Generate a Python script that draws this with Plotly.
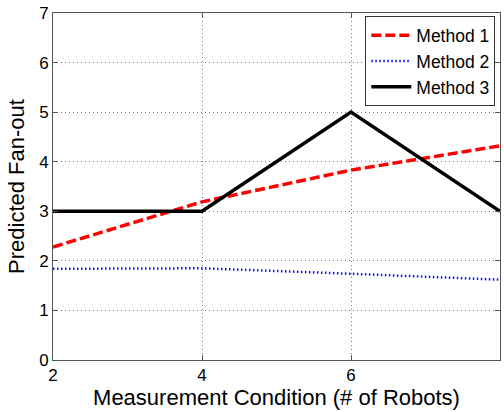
import plotly.graph_objects as go

x_vals = [2, 4, 6, 8]
method1 = [2.28, 3.19, 3.83, 4.32]
method2 = [1.84, 1.85, 1.74, 1.62]
method3 = [3, 3, 5, 3]
names = ["Method 1", "Method 2", "Method 3"]
x_ticks = [2, 4, 6, 8]
y_ticks = [0, 1, 2, 3, 4, 5, 6, 7]

fig = go.Figure()
fig.add_trace(go.Scatter(x=x_vals, y=method1, mode="lines", name=names[0],
                         line=dict(color="#ff0000", width=3.5, dash="10px,4px")))
fig.add_trace(go.Scatter(x=x_vals, y=method2, mode="lines", name=names[1],
                         line=dict(color="#1010ff", width=2.5, dash="1.5px,2.5px")))
fig.add_trace(go.Scatter(x=x_vals, y=method3, mode="lines", name=names[2],
                         line=dict(color="#000000", width=3.5)))

axis_common = dict(showline=True, mirror="ticks", linecolor="#555555", linewidth=1,
                   ticks="inside", ticklen=5, tickcolor="#555555",
                   showgrid=True, gridcolor="#777777", griddash="1px,3px", gridwidth=1,
                   zeroline=False, tickfont=dict(family="Liberation Sans, Arial", size=17, color="black"))

fig.update_layout(
    width=504, height=412,
    margin=dict(l=53, r=4, t=13, b=52),
    paper_bgcolor="white", plot_bgcolor="white",
    font=dict(family="Liberation Sans, Arial", color="black"),
    showlegend=True,
    legend=dict(x=0.9895, y=0.99, xanchor="right", yanchor="top",
                bordercolor="#333333", borderwidth=1, bgcolor="white",
                font=dict(size=17.5, family="Liberation Sans, Arial"),
                tracegroupgap=0, itemwidth=40),
    xaxis=dict(range=[2, 8], tickvals=x_ticks,
               title=dict(text="Measurement Condition (# of Robots)", font=dict(size=22), standoff=3),
               **axis_common),
    yaxis=dict(range=[0, 7], tickvals=y_ticks,
               title=dict(text="Predicted Fan-out", font=dict(size=22), standoff=8),
               **axis_common),
)

fig.write_html("out.html")
